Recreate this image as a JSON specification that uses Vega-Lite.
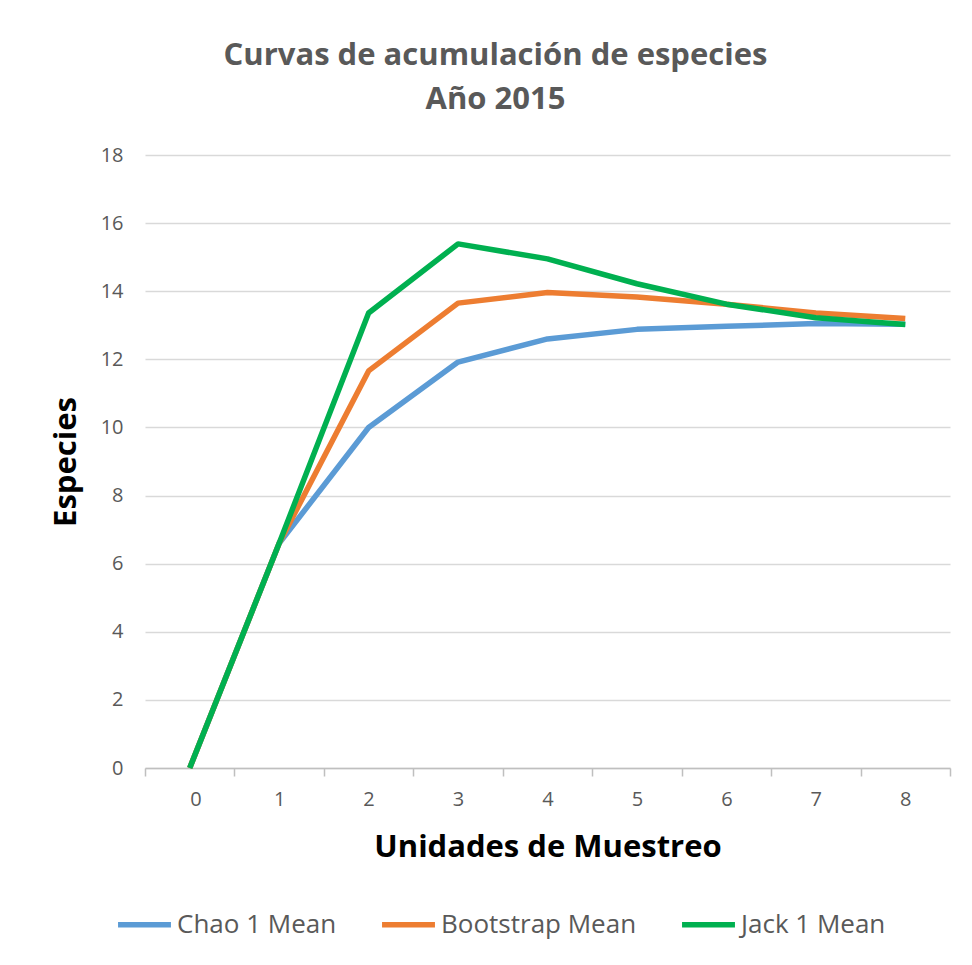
{
  "$schema": "https://vega.github.io/schema/vega-lite/v6.json",
  "width": 805,
  "height": 613,
  "autosize": {"type": "none"},
  "padding": {"left": 145, "top": 155, "right": 22, "bottom": 197},
  "background": "white",
  "config": {
    "view": {"stroke": null},
    "font": "Open Sans"
  },
  "title": {
    "text": ["Curvas de acumulación de especies", "Año 2015"],
    "font": "Open Sans",
    "fontSize": 31,
    "fontWeight": "bold",
    "color": "#595959",
    "lineHeight": 44,
    "anchor": "middle",
    "frame": "group",
    "dx": -52,
    "offset": 29
  },
  "data": {
    "values": [
      {"u": 0, "serie": "Chao 1 Mean", "especies": 0},
      {"u": 1, "serie": "Chao 1 Mean", "especies": 6.6},
      {"u": 2, "serie": "Chao 1 Mean", "especies": 10.0},
      {"u": 3, "serie": "Chao 1 Mean", "especies": 11.92},
      {"u": 4, "serie": "Chao 1 Mean", "especies": 12.6},
      {"u": 5, "serie": "Chao 1 Mean", "especies": 12.88},
      {"u": 6, "serie": "Chao 1 Mean", "especies": 12.97},
      {"u": 7, "serie": "Chao 1 Mean", "especies": 13.05},
      {"u": 8, "serie": "Chao 1 Mean", "especies": 13.03},
      {"u": 0, "serie": "Bootstrap Mean", "especies": 0},
      {"u": 1, "serie": "Bootstrap Mean", "especies": 6.6},
      {"u": 2, "serie": "Bootstrap Mean", "especies": 11.66},
      {"u": 3, "serie": "Bootstrap Mean", "especies": 13.65},
      {"u": 4, "serie": "Bootstrap Mean", "especies": 13.96},
      {"u": 5, "serie": "Bootstrap Mean", "especies": 13.83},
      {"u": 6, "serie": "Bootstrap Mean", "especies": 13.62},
      {"u": 7, "serie": "Bootstrap Mean", "especies": 13.36},
      {"u": 8, "serie": "Bootstrap Mean", "especies": 13.2},
      {"u": 0, "serie": "Jack 1 Mean", "especies": 0},
      {"u": 1, "serie": "Jack 1 Mean", "especies": 6.6},
      {"u": 2, "serie": "Jack 1 Mean", "especies": 13.36},
      {"u": 3, "serie": "Jack 1 Mean", "especies": 15.39},
      {"u": 4, "serie": "Jack 1 Mean", "especies": 14.95},
      {"u": 5, "serie": "Jack 1 Mean", "especies": 14.22},
      {"u": 6, "serie": "Jack 1 Mean", "especies": 13.62},
      {"u": 7, "serie": "Jack 1 Mean", "especies": 13.22},
      {"u": 8, "serie": "Jack 1 Mean", "especies": 13.02}
    ]
  },
  "mark": {"type": "line", "strokeWidth": 5.5, "strokeJoin": "round", "strokeCap": "butt"},
  "encoding": {
    "x": {
      "field": "u",
      "type": "quantitative",
      "scale": {"domain": [-0.5, 8.5], "nice": false, "zero": false},
      "axis": {
        "values": [-0.5, 0.5, 1.5, 2.5, 3.5, 4.5, 5.5, 6.5, 7.5, 8.5],
        "labelExpr": "datum.value < 8 ? format(datum.value + 0.5, 'd') : ''",
        "labelOffset": 44.7,
        "grid": false,
        "domainColor": "#bfbfbf",
        "domainWidth": 1.5,
        "tickColor": "#bfbfbf",
        "tickWidth": 1.5,
        "tickSize": 8,
        "labelFont": "Open Sans",
        "labelFontSize": 20,
        "labelColor": "#595959",
        "labelPadding": 13,
        "title": "Unidades de Muestreo",
        "titleFont": "Open Sans",
        "titleFontSize": 31,
        "titleFontWeight": "bold",
        "titleColor": "#000000",
        "titlePadding": 23
      }
    },
    "y": {
      "field": "especies",
      "type": "quantitative",
      "scale": {"domain": [0, 18], "nice": false},
      "axis": {
        "values": [0, 2, 4, 6, 8, 10, 12, 14, 16, 18],
        "grid": true,
        "gridColor": "#d9d9d9",
        "gridWidth": 1.5,
        "domain": false,
        "ticks": false,
        "labelFont": "Open Sans",
        "labelFontSize": 20,
        "labelColor": "#595959",
        "labelPadding": 22,
        "title": "Especies",
        "titleFont": "Open Sans",
        "titleFontSize": 31,
        "titleFontWeight": "bold",
        "titleColor": "#000000",
        "titlePadding": 18
      }
    },
    "color": {
      "field": "serie",
      "type": "nominal",
      "scale": {
        "domain": ["Chao 1 Mean", "Bootstrap Mean", "Jack 1 Mean"],
        "range": ["#5b9bd5", "#ed7d31", "#00b050"]
      },
      "legend": {
        "title": null,
        "orient": "none",
        "direction": "horizontal",
        "legendX": -30,
        "legendY": 740,
        "symbolType": "stroke",
        "symbolStrokeWidth": 5.5,
        "symbolSize": 2800,
        "labelFont": "Open Sans",
        "labelFontSize": 26,
        "labelColor": "#595959",
        "labelOffset": 3,
        "labelLimit": 0,
        "columnPadding": 34
      }
    }
  }
}
